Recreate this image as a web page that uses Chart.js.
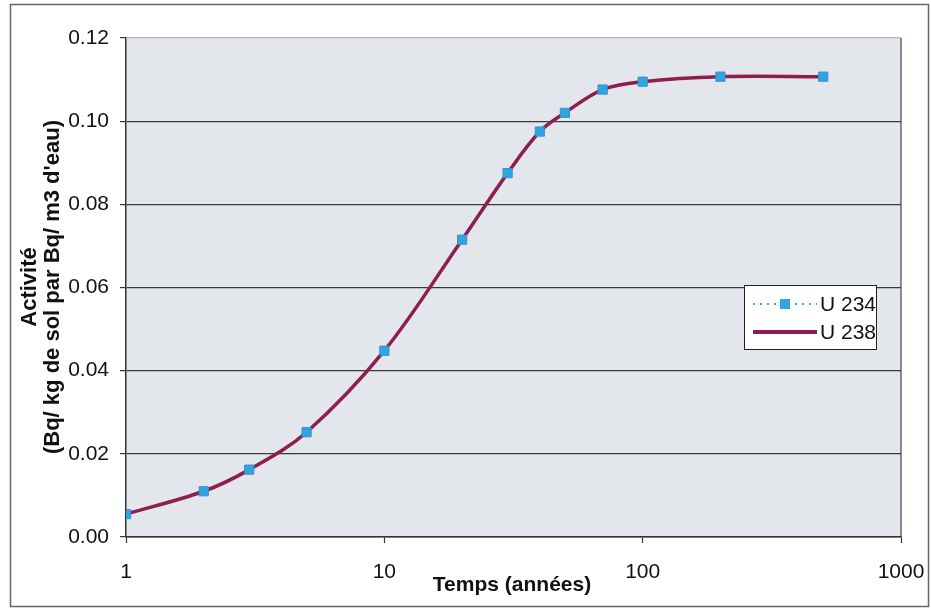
<!DOCTYPE html>
<html>
<head>
<meta charset="utf-8">
<script src="https://cdn.jsdelivr.net/npm/chart.js@4/dist/chart.umd.min.js"></script>
<style>
  html, body { margin: 0; padding: 0; background: #fff; }
  #wrap { width: 931px; height: 609px; }
</style>
</head>
<body>
<div id="wrap"><canvas id="uChart" width="931" height="609"></canvas></div>
<script>
// years
const years = [1, 2, 3, 5, 10, 20, 30, 40, 50, 70, 100, 200, 500];
// activity (Bq/kg soil per Bq/m3 water)
const u234 = [0.0055, 0.0110, 0.0162, 0.0252, 0.0448, 0.0715, 0.0875, 0.0975, 0.1020, 0.1076, 0.1095, 0.1107, 0.1107];
const u238 = [0.0055, 0.0110, 0.0162, 0.0252, 0.0448, 0.0715, 0.0875, 0.0975, 0.1020, 0.1076, 0.1095, 0.1107, 0.1107];
const xTicks = [1, 10, 100, 1000];
const yTicks = [0, 0.02, 0.04, 0.06, 0.08, 0.10, 0.12];

const blue = '#2ea6e0';
const maroon = '#8c1f50';
const font = 'Arial, "Liberation Sans", sans-serif';

const toPoints = (ys) => years.map((x, i) => ({ x: x, y: ys[i] }));

// grey plot area, outer frame, y title, x title, legend box
const decor = {
  id: 'decor',
  beforeDraw(chart) {
    const { ctx, chartArea: a } = chart;
    ctx.save();
    ctx.fillStyle = '#e3e6ea';
    ctx.fillRect(a.left, a.top, a.right - a.left, a.bottom - a.top);
    ctx.restore();
  },
  afterDraw(chart) {
    const { ctx, chartArea: a } = chart;
    ctx.save();
    // frame
    ctx.strokeStyle = '#666';
    ctx.lineWidth = 1.5;
    ctx.strokeRect(10.5, 4.5, 918, 602);

    // right edge of plot
    ctx.strokeStyle = '#444';
    ctx.lineWidth = 1.2;
    ctx.beginPath();
    ctx.moveTo(a.right, a.top);
    ctx.lineTo(a.right, a.bottom);
    ctx.stroke();

    // y title
    ctx.fillStyle = '#111';
    ctx.textAlign = 'center';
    ctx.textBaseline = 'middle';
    ctx.font = 'bold 22px ' + font;
    ctx.save();
    ctx.translate(30, 287);
    ctx.rotate(-Math.PI / 2);
    ctx.fillText('Activité', 0, 0);
    ctx.fillText("(Bq/ kg de sol par Bq/ m3 d'eau)", 0, 23);
    ctx.restore();

    // x title
    ctx.font = 'bold 21px ' + font;
    ctx.fillText('Temps (années)', 512, 585);

    // legend
    const lx = 744, ly = 285, lw = 132, lh = 64;
    ctx.fillStyle = '#fff';
    ctx.fillRect(lx, ly, lw, lh);
    ctx.strokeStyle = '#222';
    ctx.lineWidth = 1;
    ctx.strokeRect(lx + 0.5, ly + 0.5, lw, lh);

    const ds = chart.data.datasets;
    const rows = [ly + 19, ly + 47];
    ds.forEach((d, i) => {
      const y = rows[i];
      ctx.beginPath();
      ctx.strokeStyle = d.borderColor;
      ctx.lineWidth = i === 0 ? 2 : 4;
      ctx.setLineDash(i === 0 ? [2, 5] : []);
      ctx.moveTo(lx + 9, y);
      ctx.lineTo(lx + 73, y);
      ctx.stroke();
      ctx.setLineDash([]);
      if (i === 0) {
        ctx.fillStyle = d.pointBackgroundColor;
        ctx.fillRect(lx + 36, y - 5, 10, 10);
      }
      ctx.fillStyle = '#111';
      ctx.font = '21px ' + font;
      ctx.textAlign = 'left';
      ctx.fillText(d.label, lx + 76, y + 1);
    });
    ctx.restore();
  }
};

new Chart(document.getElementById('uChart'), {
  type: 'line',
  data: {
    datasets: [{
      label: 'U 234',
      data: toPoints(u234),
      showLine: false,
      borderColor: blue,
      backgroundColor: blue,
      pointStyle: 'rect',
      pointRadius: 6.5,
      pointBackgroundColor: blue,
      pointBorderColor: '#3b8fd0',
      pointBorderWidth: 1,
      order: 0
    }, {
      label: 'U 238',
      data: toPoints(u238),
      borderColor: maroon,
      backgroundColor: maroon,
      borderWidth: 3.5,
      pointRadius: 0,
      tension: 0.35,
      order: 1
    }]
  },
  options: {
    responsive: false,
    animation: false,
    layout: { padding: { left: 0, top: 38, right: 30, bottom: 0 } },
    plugins: {
      legend: { display: false },
      tooltip: { enabled: false }
    },
    scales: {
      x: {
        type: 'logarithmic',
        min: 1,
        max: 1000,
        afterBuildTicks: (s) => { s.ticks = xTicks.map(v => ({ value: v })); },
        afterFit: (s) => { s.height = 72; s.paddingLeft = 0; s.paddingRight = 0; },
        border: { color: '#333', width: 1.5 },
        grid: {
          drawOnChartArea: false,
          tickLength: 6,
          tickColor: '#333',
          tickWidth: 1.2
        },
        ticks: {
          autoSkip: false,
          maxRotation: 0,
          padding: 17,
          color: '#111',
          font: { family: font, size: 21 },
          callback: (v) => String(v)
        }
      },
      y: {
        min: 0,
        max: 0.12,
        afterBuildTicks: (s) => { s.ticks = yTicks.map(v => ({ value: v })); },
        afterFit: (s) => { s.width = 126; s.paddingTop = 0; s.paddingBottom = 0; },
        border: { color: '#333', width: 1.5 },
        grid: {
          color: (c) => (c.tick && c.tick.value >= 0.119 ? '#b8b8b8' : '#3a3a3a'),
          lineWidth: 1.2,
          tickLength: 6,
          tickColor: '#333'
        },
        ticks: {
          padding: 11,
          color: '#111',
          font: { family: font, size: 21 },
          callback: (v) => Number(v).toFixed(2)
        }
      }
    }
  },
  plugins: [decor]
});
</script>
</body>
</html>
